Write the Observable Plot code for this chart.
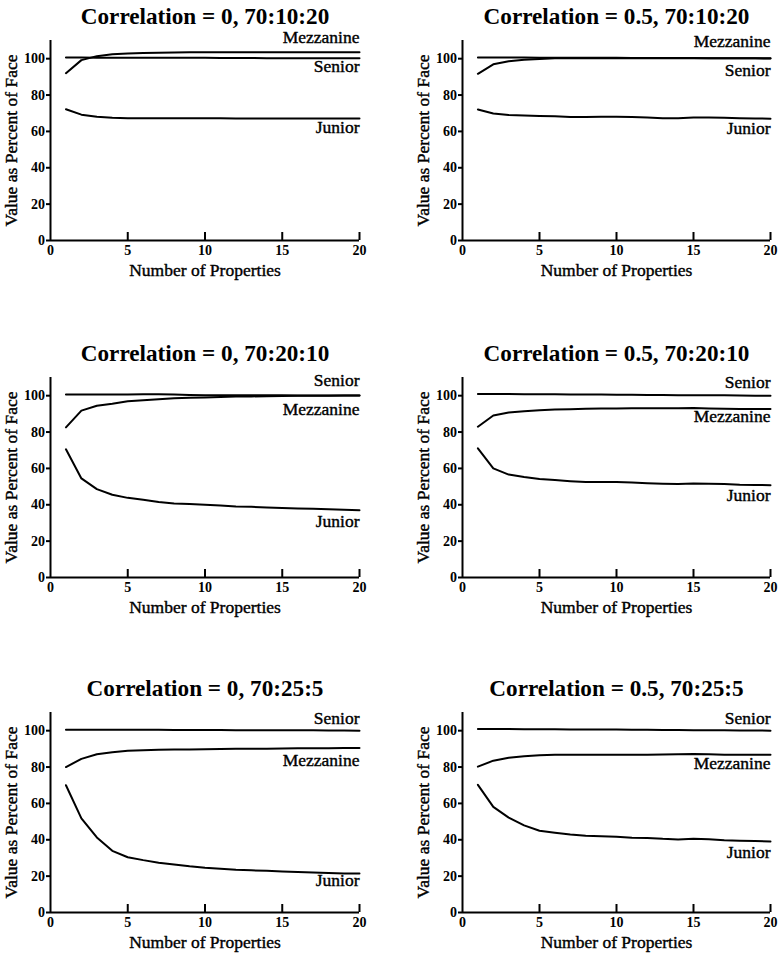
<!DOCTYPE html>
<html>
<head>
<meta charset="utf-8">
<script src="https://cdn.jsdelivr.net/npm/d3@7"></script>
<script src="https://cdn.jsdelivr.net/npm/@observablehq/plot@0.6"></script>
<style>
  body { margin: 0; background: #fff; }
  #wrap { position: relative; width: 780px; height: 953px; background: #fff; }
  .panel { position: absolute; }
  #wrap svg, #wrap svg text { font-family: "Liberation Serif", "Times New Roman", serif !important; }
</style>
</head>
<body>
<div id="wrap"></div>
<script>
// ---------- data ----------
const numProperties = d3.range(1, 21);
const xTicks = [0, 5, 10, 15, 20];
const yTicks = [0, 20, 40, 60, 80, 100];
const seriesNames = ["Senior", "Mezzanine", "Junior"];

const panelTitles = [
  "Correlation = 0, 70:10:20",
  "Correlation = 0.5, 70:10:20",
  "Correlation = 0, 70:20:10",
  "Correlation = 0.5, 70:20:10",
  "Correlation = 0, 70:25:5",
  "Correlation = 0.5, 70:25:5"
];

// Panel 1: Correlation = 0, 70:10:20
const p1Senior = [100.6,100.6,100.5,100.5,100.5,100.5,100.5,100.5,100.5,100.5,100.4,100.4,100.4,100.3,100.3,100.3,100.3,100.3,100.3,100.3];
const p1Mezzanine = [92.0,99.2,101.4,102.4,102.9,103.1,103.2,103.4,103.5,103.5,103.5,103.5,103.5,103.5,103.5,103.5,103.5,103.5,103.5,103.5];
const p1Junior = [72.2,69.2,68.0,67.5,67.3,67.3,67.2,67.2,67.2,67.2,67.2,67.1,67.1,67.1,67.1,67.1,67.1,67.1,67.1,67.1];

// Panel 2: Correlation = 0.5, 70:10:20
const p2Senior = [100.6,100.6,100.6,100.6,100.5,100.5,100.5,100.5,100.5,100.5,100.4,100.4,100.4,100.4,100.4,100.3,100.3,100.2,100.2,100.1];
const p2Mezzanine = [91.7,96.9,98.6,99.4,99.8,100.2,100.3,100.3,100.3,100.3,100.3,100.3,100.3,100.3,100.3,100.3,100.2,100.2,100.2,100.2];
const p2Junior = [72.1,69.9,69.0,68.8,68.5,68.3,67.9,67.9,68.0,68.1,67.9,67.6,67.3,67.3,67.7,67.6,67.5,67.3,67.1,67.0];

// Panel 3: Correlation = 0, 70:20:10
const p3Senior = [100.7,100.7,100.7,100.7,100.7,100.8,100.8,100.6,100.4,100.3,100.2,100.2,100.2,100.2,100.2,100.1,100.1,100.1,100.1,100.1];
const p3Mezzanine = [82.6,91.8,94.5,95.6,96.9,97.5,98.1,98.6,98.8,99.0,99.3,99.5,99.6,99.7,99.8,99.9,100.0,100.0,100.1,100.1];
const p3Junior = [70.5,54.5,48.6,45.5,43.8,42.7,41.5,40.7,40.4,40.0,39.6,39.1,38.9,38.5,38.2,38.0,37.8,37.5,37.2,37.0];

// Panel 4: Correlation = 0.5, 70:20:10
const p4Senior = [100.9,100.9,100.9,100.8,100.8,100.8,100.7,100.7,100.6,100.5,100.5,100.4,100.4,100.3,100.3,100.2,100.2,100.1,100.0,100.0];
const p4Mezzanine = [82.9,89.1,90.7,91.5,92.0,92.4,92.6,92.8,92.9,93.0,93.1,93.1,93.1,93.1,93.2,93.0,92.8,92.7,92.7,92.7];
const p4Junior = [71.0,60.0,56.6,55.3,54.2,53.6,53.0,52.5,52.5,52.5,52.3,51.9,51.6,51.4,51.7,51.6,51.4,51.0,50.9,50.8];

// Panel 5: Correlation = 0, 70:25:5
const p5Senior = [100.5,100.5,100.5,100.5,100.5,100.5,100.5,100.4,100.4,100.4,100.4,100.3,100.3,100.3,100.2,100.2,100.2,100.1,100.1,100.0];
const p5Mezzanine = [80.0,84.5,87.0,88.2,89.0,89.3,89.5,89.6,89.7,89.8,89.9,90.0,90.0,90.1,90.2,90.3,90.4,90.4,90.5,90.5];
const p5Junior = [70.0,51.8,41.3,33.9,30.4,28.8,27.4,26.4,25.4,24.6,24.0,23.5,23.2,22.9,22.6,22.3,22.0,21.7,21.5,21.4];

// Panel 6: Correlation = 0.5, 70:25:5
const p6Senior = [100.9,100.9,100.9,100.8,100.8,100.8,100.7,100.7,100.6,100.6,100.5,100.5,100.4,100.4,100.3,100.3,100.2,100.1,100.1,100.0];
const p6Mezzanine = [80.2,83.5,85.1,86.0,86.5,86.7,86.8,86.8,86.8,86.8,86.8,86.8,86.9,87.0,87.2,87.0,86.8,86.7,86.7,86.7];
const p6Junior = [70.2,58.1,52.2,47.9,45.0,43.9,42.9,42.2,41.9,41.6,41.1,41.0,40.5,40.2,40.5,40.3,39.8,39.5,39.3,39.1];

const panels = [
  {title: panelTitles[0], values: [p1Senior, p1Mezzanine, p1Junior]},
  {title: panelTitles[1], values: [p2Senior, p2Mezzanine, p2Junior]},
  {title: panelTitles[2], values: [p3Senior, p3Mezzanine, p3Junior]},
  {title: panelTitles[3], values: [p4Senior, p4Mezzanine, p4Junior]},
  {title: panelTitles[4], values: [p5Senior, p5Mezzanine, p5Junior]},
  {title: panelTitles[5], values: [p6Senior, p6Mezzanine, p6Junior]}
];

// ---------- layout / style ----------
// vertical pixel offset of each end label (Senior, Mezzanine, Junior) from its line's end
const labelOffsets = [
  [8.5, -15, 8.7],
  [12, -16.5, 9.4],
  [-15, 14, 11],
  [-13.3, 7.4, 10],
  [-12.7, 12, 6.7],
  [-12.7, 8.3, 11]
];
const FONT = "Liberation Serif";
const panelTops = [0, 337, 672];
const wrap = document.getElementById("wrap");

panels.forEach((p, i) => {
  const col = i % 2, row = Math.floor(i / 2);
  const rows = [];
  seriesNames.forEach((name, k) => {
    p.values[k].forEach((v, j) => rows.push({series: name, n: numProperties[j], value: v}));
  });
  const labelMarks = seriesNames.map((name, k) => Plot.text(
    [{series: name, n: numProperties[numProperties.length - 1], value: p.values[k][p.values[k].length - 1]}],
    {x: "n", y: "value", text: "series", textAnchor: "end", lineAnchor: "middle",
     dy: labelOffsets[i][k], fontSize: 17.5, fill: "black", stroke: "black", strokeWidth: 0.4}
  ));

  const chart = Plot.plot({
    width: 390,
    height: 281,
    marginTop: 40,
    marginBottom: 41,
    marginLeft: col === 0 ? 50 : 72,
    marginRight: col === 0 ? 31 : 10,
    x: {domain: [0, 20]},
    y: {domain: [0, 110]},
    style: {fontFamily: FONT, background: "white", color: "black", overflow: "visible"},
    marks: [
      Plot.axisY(yTicks, {tickSize: 4, tickPadding: 1.5, fontSize: 14, fontWeight: "bold", label: null, strokeWidth: 2}),
      Plot.axisX(xTicks, {tickSize: 0, tickPadding: 5, fontSize: 14, fontWeight: "bold", label: null}),
      Plot.tickX(xTicks.slice(1), {x: d => d, insetTop: 192, strokeWidth: 2, stroke: "black"}),
      Plot.ruleX([0], {strokeWidth: 2, stroke: "black"}),
      Plot.ruleY([0], {strokeWidth: 2, stroke: "black"}),
      Plot.line(rows, {x: "n", y: "value", z: "series", stroke: "black", strokeWidth: 2}),
      ...labelMarks,
      Plot.text([p.title], {
        text: d => d, frameAnchor: "top", dy: -24, lineAnchor: "middle", textAnchor: "middle",
        fontSize: 23.2, fontWeight: "bold", fill: "black"
      }),
      Plot.text(["Number of Properties"], {
        text: d => d, frameAnchor: "bottom", dy: 29.5, lineAnchor: "middle", textAnchor: "middle",
        fontSize: 17.5, fill: "black", stroke: "black", strokeWidth: 0.4
      }),
      Plot.text(["Value as Percent of Face"], {
        text: d => d, frameAnchor: "left", dx: -39, rotate: -90, lineAnchor: "middle", textAnchor: "middle",
        fontSize: 17.5, fill: "black", stroke: "black", strokeWidth: 0.4
      })
    ]
  });
  const holder = document.createElement("div");
  holder.className = "panel";
  holder.style.left = (col * 390) + "px";
  holder.style.top = panelTops[row] + "px";
  holder.appendChild(chart);
  wrap.appendChild(holder);
});
</script>
</body>
</html>
